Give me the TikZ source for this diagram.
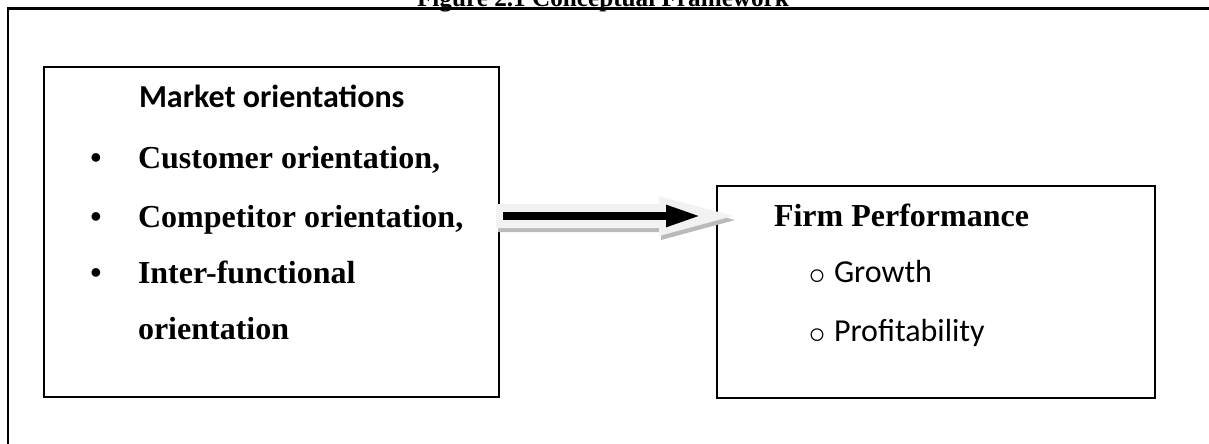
\documentclass[tikz,border=0pt]{standalone}
\usepackage{fontspec}
\setmainfont{Liberation Serif}
\newfontfamily\calib{Carlito}
\newfontfamily\dejavu{DejaVu Sans}
\usetikzlibrary{arrows.meta, positioning, calc}
\tikzset{
  every picture/.style={x=0.5pt, y=-0.5pt, line width=1pt},
  frame/.style={line width=1.1pt},
  box/.style={draw, line width=1pt, inner sep=0pt},
  title/.style={font=\bfseries\fontsize{12.6}{15}\selectfont, anchor=base, inner sep=0pt},
  head/.style={font=\bfseries\fontsize{16}{19}\selectfont, anchor=base west, inner sep=0pt},
  mohead/.style={font=\calib\bfseries\fontsize{16}{19}\selectfont, anchor=base west, inner sep=0pt},
  item/.style={font=\bfseries\fontsize{16}{19}\selectfont, anchor=base west, inner sep=0pt},
  sub/.style={font=\calib\fontsize{16}{19}\selectfont, anchor=base west, inner sep=0pt},
  dot/.style={font=\bfseries\fontsize{16}{19}\selectfont, anchor=base, inner sep=0pt},
  ring/.style={font=\dejavu\fontsize{22}{24}\selectfont, anchor=base, inner sep=0pt, yshift=-5.2pt},
  fatarrow/.style={line width=4pt, -{Triangle[length=17.5pt, width=10pt]}},
}

\begin{document}
\begin{tikzpicture}
  \useasboundingbox (0,0) rectangle (1209,444);
  % outer frame, cut by the page
  \draw[frame] (8,460) -- (8,8.5) -- (1220,8.5);
  \node[title] (fig) at (603,7) {Figure 2.1 Conceptual Framework};

  % the two boxes
  \node[box, minimum width=227.5pt, minimum height=165pt] (market) at (271.5,232) {};
  \node[box, minimum width=219pt, minimum height=106pt] (perf) at (936,292) {};

  % left box text
  \node[mohead] (mo) at (138,107) {Market orientations};
  \foreach \n/\y/\txt in {cust/168/{Customer orientation,}, comp/227/{Competitor orientation,}, inter/283/{Inter-functional}} {
    \node[dot] (d\n) at (96,\y) {\textbullet};
    \node[item] (\n) at (137,\y) {\txt};
  }
  \node[item] (inter2) at (137,339) {orientation};

  % right box text
  \node[head] (fp) at (773,226) {Firm Performance};
  \foreach \n/\y/\txt in {grow/282/Growth, prof/341/Profitability} {
    \node[ring] (r\n) at (817,\y) {◦};
    \node[sub] (\n) at (833,\y) {\txt};
  }

  % block arrow between the boxes
  \coordinate (row) at (0,216);
  \coordinate (a0) at (market.east |- row);
  \fill[black!27] ($(a0)+(-2,-8)$) -- ++(163,0) -- ++(0,-8) -- ++(74,20) -- ++(-74,20) -- ++(0,-8) -- ++(-163,0) -- cycle;
  \fill[black!5] ($(a0)+(-4,-12)$) -- ++(163,0) -- ++(0,-8) -- ++(74,20) -- ++(-74,20) -- ++(0,-8) -- ++(-163,0) -- cycle;
  \draw[fatarrow] ([xshift=1.5pt]market.east |- row) -- ([xshift=-7.5pt]perf.west |- row);
\end{tikzpicture}
\end{document}
